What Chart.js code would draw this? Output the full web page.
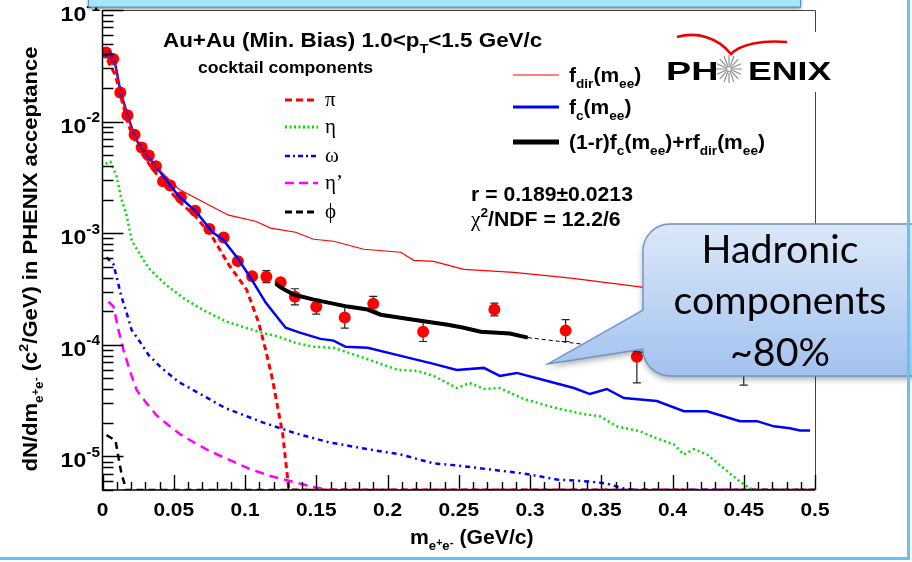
<!DOCTYPE html>
<html>
<head>
<meta charset="utf-8">
<script src="https://cdn.jsdelivr.net/npm/chart.js@4.4.1/dist/chart.umd.min.js"></script>
<style>
  html, body { margin: 0; padding: 0; background: #fff; }
  canvas { display: block; }
</style>
</head>
<body>
<canvas id="c" width="912" height="562"></canvas>
<script>
// --- data (m in GeV/c^2, dN/dm) ---
const dataX = [0.0025, 0.0075, 0.0125, 0.0175, 0.0225, 0.0275, 0.0325, 0.0375, 0.0425, 0.0475,
  0.055, 0.065, 0.075, 0.085, 0.095, 0.105, 0.115, 0.125, 0.135, 0.15, 0.17, 0.19, 0.225, 0.275, 0.325, 0.375, 0.45];
const dataY = [0.0416, 0.0364, 0.01824, 0.0114, 0.00764, 0.00587, 0.00497, 0.00399, 0.00292, 0.00267,
  0.0021, 0.00159, 0.00109, 0.000914, 0.000562, 0.000412, 0.000408, 0.000364, 0.000269, 0.000219, 0.000176,
  0.000233, 0.000131, 0.000207, 0.000134, 0.000078, 0.000086];
const dataLo = [0.0392, 0.0343, 0.0172, 0.01075, 0.0072, 0.00554, 0.00469, 0.00376, 0.00275, 0.00252,
  0.00198, 0.0015, 0.00103, 0.000862, 0.00053, 0.000389, 0.00036, 0.000328, 0.000228, 0.000188, 0.000141,
  0.0002, 0.000107, 0.000182, 0.000107, 0.0000455, 0.0000435];
const dataHi = [0.0441, 0.0386, 0.0193, 0.01208, 0.0081, 0.00622, 0.00527, 0.00423, 0.0031, 0.00283,
  0.00223, 0.00169, 0.00116, 0.000969, 0.000596, 0.000437, 0.000462, 0.000404, 0.000318, 0.000256, 0.00022,
  0.000272, 0.00016, 0.000236, 0.000168, 0.000134, 0.00017];

const fDirX = [0.0035, 0.0049, 0.0091, 0.0126, 0.0176, 0.0232, 0.0302, 0.0393, 0.0534, 0.0653, 0.0885, 0.1074,
  0.118, 0.1355, 0.1482, 0.1622, 0.1833, 0.2093, 0.2184, 0.2324, 0.2535, 0.2886, 0.3237, 0.3357, 0.38, 0.42, 0.462, 0.497];
const fDirY = [0.0402, 0.0419, 0.032, 0.0186, 0.0113, 0.00703, 0.00515, 0.00375, 0.00249, 0.00207, 0.00145, 0.00128,
  0.00111, 0.00102, 0.000883, 0.000847, 0.000718, 0.000675, 0.000571, 0.00056, 0.000474, 0.000446, 0.000402, 0.000385,
  0.000327, 0.000294, 0.00027, 0.000254];

const fCX = [0.002, 0.0049, 0.0091, 0.0126, 0.0176, 0.0232, 0.0302, 0.0372, 0.0442, 0.0534, 0.0653, 0.0772, 0.0843,
  0.0899, 0.0955, 0.1046, 0.1145, 0.1285, 0.139, 0.153, 0.1622, 0.1706, 0.1861, 0.2093, 0.2324, 0.2486, 0.2676, 0.2788,
  0.2907, 0.3069, 0.3308, 0.342, 0.3539, 0.3659, 0.389, 0.408, 0.4242, 0.4473, 0.4593, 0.4712, 0.4824, 0.4895, 0.4965];
const fCY = [0.0385, 0.0419, 0.032, 0.0186, 0.0113, 0.00703, 0.00515, 0.00402, 0.00306, 0.00215, 0.00158, 0.00102,
  0.000883, 0.000718, 0.000583, 0.000385, 0.000239, 0.000142, 0.000128, 0.000113, 0.000109, 0.000096, 0.000094,
  0.0000796, 0.0000675, 0.0000596, 0.0000621, 0.0000526, 0.000056, 0.0000494, 0.000041, 0.0000362, 0.0000402,
  0.0000333, 0.0000313, 0.0000254, 0.0000254, 0.0000207, 0.0000207, 0.0000186, 0.0000179, 0.0000171, 0.0000171];

const fitX = [0.1215, 0.125, 0.1341, 0.1482, 0.172, 0.1861, 0.1952, 0.2184, 0.2423, 0.2535, 0.2654, 0.2858, 0.2985];
const fitY = [0.000355, 0.000327, 0.000282, 0.000254, 0.00022, 0.000207, 0.000186, 0.000168, 0.000151, 0.000142,
  0.000131, 0.000126, 0.000116];
const fitExtX = [0.2985, 0.335, 0.42, 0.5];
const fitExtY = [0.000116, 0.000102, 0.000073, 0.000055];

const piX = [0.0035, 0.0091, 0.0126, 0.0183, 0.0253, 0.0351, 0.0421, 0.0534, 0.0653, 0.0772, 0.0885, 0.1011, 0.1096,
  0.1145, 0.1194, 0.1229, 0.1264, 0.1285, 0.1306, 0.1315, 0.5];
const piY = [0.0355, 0.026, 0.01715, 0.0092, 0.00571, 0.00378, 0.00288, 0.00194, 0.00142, 0.00092, 0.000526, 0.000313,
  0.000158, 0.00009, 0.0000484, 0.0000276, 0.0000161, 0.0000092, 0.00000526, 0.000005, 0.000005];

const etaX = [0.0021, 0.0056, 0.0098, 0.0133, 0.0169, 0.0206, 0.0267, 0.0323, 0.044, 0.0581, 0.0721, 0.0873, 0.1004,
  0.1124, 0.1236, 0.1355, 0.1482, 0.1622, 0.1833, 0.2072, 0.2212, 0.2324, 0.2486, 0.2577, 0.2676, 0.2788, 0.2956,
  0.3188, 0.3378, 0.349, 0.361, 0.3771, 0.389, 0.401, 0.408, 0.415, 0.4242, 0.4361, 0.4473, 0.4544, 0.4593, 0.5];
const etaY = [0.00419, 0.00436, 0.00327, 0.00202, 0.00145, 0.000853, 0.000637, 0.000488, 0.000348, 0.000255, 0.0002,
  0.000161, 0.000142, 0.000128, 0.000118, 0.000104, 0.000096, 0.000094, 0.0000764, 0.0000596, 0.0000583, 0.0000526,
  0.000041, 0.0000455, 0.0000402, 0.000041, 0.0000327, 0.000027, 0.0000239, 0.0000229, 0.0000186, 0.0000168,
  0.0000145, 0.0000128, 0.0000104, 0.0000116, 0.0000104, 0.0000078, 0.00000596, 0.00000515, 0.000005, 0.000005];

const omegaX = [0.0028, 0.0077, 0.0098, 0.0133, 0.0169, 0.0204, 0.0253, 0.0323, 0.0414, 0.0534, 0.0674, 0.0864, 0.1124,
  0.1355, 0.1587, 0.1861, 0.2093, 0.2324, 0.2486, 0.2718, 0.2956, 0.3188, 0.342, 0.3539, 0.3659, 0.373, 0.5];
const omegaY = [0.000608, 0.000526, 0.00041, 0.00027, 0.000194, 0.000136, 0.000111, 0.0000813, 0.0000621, 0.0000465,
  0.000037, 0.000027, 0.0000202, 0.0000161, 0.0000134, 0.0000116, 0.0000104, 0.00000865, 0.0000083, 0.00000764,
  0.00000703, 0.00000621, 0.00000596, 0.00000571, 0.00000515, 0.000005, 0.000005];

const etapX = [0.0042, 0.0077, 0.0112, 0.0147, 0.0197, 0.0239, 0.0309, 0.0379, 0.0463, 0.0555, 0.0653, 0.0744, 0.085,
  0.1025, 0.1166, 0.1355, 0.1496, 0.1587, 0.5];
const etapY = [0.000244, 0.00022, 0.000136, 0.00009, 0.000056, 0.0000394, 0.00003, 0.0000234, 0.000019, 0.0000155,
  0.0000131, 0.0000113, 0.0000098, 0.0000078, 0.00000675, 0.00000583, 0.00000526, 0.000005, 0.000005];

const phiX = [0.0028, 0.0091, 0.0112, 0.0133, 0.0154, 0.0162, 0.5];
const phiY = [0.0000155, 0.0000139, 0.0000098, 0.00000703, 0.00000571, 0.000005, 0.000005];

const xTickLabels = ['0', '0.05', '0.1', '0.15', '0.2', '0.25', '0.3', '0.35', '0.4', '0.45', '0.5'];
const yTickExponents = [-1, -2, -3, -4, -5];
const xMin = 0, xMax = 0.5, yMin = 5e-6, yMax = 0.1;

const SANS = '"Liberation Sans", Arial, sans-serif';
const SERIF = '"Liberation Serif", "DejaVu Serif", serif';
const SX = 1.1; // the figure is a bit stretched sideways

const pts = (xs, ys) => xs.map((x, i) => ({ x: x, y: ys[i] }));

function line(label, xs, ys, color, width, dash) {
    return {
        label: label, data: pts(xs, ys), showLine: true, pointRadius: 0,
        borderColor: color, borderWidth: width, borderDash: dash || [], fill: false, tension: 0
    };
}

// rich text: segments {t, s: size scale, dy: baseline shift in em, f: family, w: weight}
function rich(ctx, x, y, segs, size, align, sx) {
    sx = sx || SX;
    const fontOf = s => `${s.w || 'bold'} ${size * (s.s || 1)}px ${s.f || SANS}`;
    let w = 0;
    segs.forEach(s => { ctx.font = fontOf(s); w += ctx.measureText(s.t).width; });
    const left = align === 'center' ? x - w * sx / 2 : align === 'right' ? x - w * sx : x;
    ctx.save();
    ctx.translate(left, y);
    ctx.scale(sx, 1);
    ctx.textAlign = 'left';
    ctx.textBaseline = 'alphabetic';
    let p = 0;
    segs.forEach(s => {
        ctx.font = fontOf(s);
        ctx.fillText(s.t, p, (s.dy || 0) * size);
        p += ctx.measureText(s.t).width;
    });
    ctx.restore();
}
const T = t => ({ t: t });
const SUB = t => ({ t: t, s: 0.65, dy: 0.3 });
const SUP = t => ({ t: t, s: 0.65, dy: -0.45 });
const EE = [{ t: 'e', s: 0.62, dy: 0.32 }, { t: '+', s: 0.5, dy: 0.08 }, { t: 'e', s: 0.62, dy: 0.32 }, { t: '-', s: 0.55, dy: 0.08 }];

const errorBars = {
    id: 'errorBars',
    beforeDatasetDraw(chart, args) {
        if (args.index !== 9) return;
        const { ctx, scales: { x, y } } = chart;
        ctx.save();
        ctx.strokeStyle = '#222';
        ctx.lineWidth = 1.2;
        dataX.forEach((v, i) => {
            const px = x.getPixelForValue(v);
            const lo = y.getPixelForValue(dataLo[i]);
            const hi = y.getPixelForValue(dataHi[i]);
            ctx.beginPath();
            ctx.moveTo(px, lo); ctx.lineTo(px, hi);
            if (lo - hi > 12) {
                ctx.moveTo(px - 4, lo); ctx.lineTo(px + 4, lo);
                ctx.moveTo(px - 4, hi); ctx.lineTo(px + 4, hi);
            }
            ctx.stroke();
        });
        ctx.restore();
    }
};

const decor = {
    id: 'decor',
    beforeDraw(chart) {
        const ctx = chart.ctx;
        ctx.save();
        ctx.fillStyle = '#fff';
        ctx.fillRect(0, 0, chart.width, chart.height);
        ctx.restore();
    },
    afterDraw(chart) {
        const { ctx, chartArea: ca, scales: { x, y } } = chart;
        ctx.save();
        ctx.setLineDash([]);
        ctx.fillStyle = '#000';

        // frame
        ctx.strokeStyle = '#444';
        ctx.lineWidth = 1;
        ctx.beginPath();
        ctx.moveTo(ca.left, ca.top + 0.5); ctx.lineTo(ca.right + 0.5, ca.top + 0.5); ctx.lineTo(ca.right + 0.5, ca.bottom);
        ctx.stroke();
        ctx.strokeStyle = '#000';
        ctx.lineWidth = 1.5;
        ctx.beginPath();
        ctx.moveTo(ca.left, ca.top); ctx.lineTo(ca.left, ca.bottom); ctx.lineTo(ca.right, ca.bottom);
        ctx.stroke();

        // ticks (inside)
        ctx.strokeStyle = '#000';
        ctx.lineWidth = 1.4;
        ctx.beginPath();
        for (let e = -6; e <= -1; e++) {
            for (let k = 1; k <= 9; k++) {
                const v = k * Math.pow(10, e);
                if (v < yMin * 0.999 || v > yMax * 1.001) continue;
                const py = Math.round(y.getPixelForValue(v)) + 0.5;
                ctx.moveTo(ca.left, py); ctx.lineTo(ca.left + (k === 1 ? 21 : 11), py);
            }
        }
        for (let i = 0; i <= 50; i++) {
            const px = Math.round(x.getPixelForValue(i * 0.01)) + 0.5;
            ctx.moveTo(px, ca.bottom); ctx.lineTo(px, ca.bottom - (i % 5 === 0 ? 15 : 8));
        }
        ctx.stroke();

        // tick labels
        xTickLabels.forEach(l => rich(ctx, x.getPixelForValue(parseFloat(l)), 516, [T(l)], 19, 'center'));
        yTickExponents.forEach(e => {
            const py = y.getPixelForValue(Math.pow(10, e));
            rich(ctx, 100, py + 11, [T('10'), { t: '-' + (-e), s: 0.67, dy: -0.5 }], 21, 'right');
        });

        // axis titles
        rich(ctx, 410, 544, [T('m')].concat(EE, [T(' (GeV/c)')]), 20, 'left', 1.06);
        ctx.save();
        ctx.translate(37, 259);
        ctx.rotate(-Math.PI / 2);
        rich(ctx, 0, 0, [T('dN/dm')].concat(EE, [T(' (c'), SUP('2'), T('/GeV) in PHENIX acceptance')]), 20, 'center');
        ctx.restore();

        // header texts
        rich(ctx, 163, 47, [T('Au+Au (Min. Bias) 1.0<p'), SUB('T'), T('<1.5 GeV/c')], 20, 'left', 1.12);
        rich(ctx, 198, 73, [T('cocktail components')], 16, 'left');

        // cocktail legend
        const leg = [
            ['\u03c0', '#ff0000', 3, [7, 4], 100],
            ['\u03b7', '#00dd00', 3, [2, 2.5], 127],
            ['\u03c9', '#0000ff', 2.5, [5, 3, 2, 3], 156],
            ['\u03b7\u2019', '#ff00ff', 2.5, [9, 5], 183],
            ['\u03d5', '#000000', 3, [7, 4], 212]
        ];
        leg.forEach(r => {
            ctx.strokeStyle = r[1]; ctx.lineWidth = r[2]; ctx.setLineDash(r[3]);
            ctx.beginPath(); ctx.moveTo(285, r[4]); ctx.lineTo(318, r[4]); ctx.stroke();
            ctx.setLineDash([]);
            rich(ctx, 325, r[4] + 6, [{ t: r[0], f: SERIF, w: 'normal' }], 21, 'left', 1);
        });

        // fit legend
        const leg2 = [
            ['#ff0000', 1.2, 75, [T('f'), SUB('dir'), T('(m'), SUB('ee'), T(')')]],
            ['#0000ff', 3, 107, [T('f'), SUB('c'), T('(m'), SUB('ee'), T(')')]],
            ['#000000', 5, 142, [T('(1-r)f'), SUB('c'), T('(m'), SUB('ee'), T(')+rf'), SUB('dir'), T('(m'), SUB('ee'), T(')')]]
        ];
        leg2.forEach(r => {
            ctx.strokeStyle = r[0]; ctx.lineWidth = r[1];
            ctx.beginPath(); ctx.moveTo(513, r[2]); ctx.lineTo(559, r[2]); ctx.stroke();
            rich(ctx, 569, r[2] + 7, r[3], 20, 'left', 1.05);
        });

        rich(ctx, 471, 201, [T('r = 0.189\u00b10.0213')], 20, 'left', 1.06);
        rich(ctx, 471, 226, [{ t: '\u03c7', f: SERIF, w: 'normal' }, SUP('2'), T('/NDF = 12.2/6')], 20, 'left', 1.06);

        // PHENIX logo
        ctx.fillStyle = '#fff';
        ctx.fillRect(655, 32, 190, 60);
        ctx.fillStyle = '#000';
        rich(ctx, 666, 80, [T('PH')], 26, 'left', 1.45);
        rich(ctx, 748, 80, [T('ENIX')], 26, 'left', 1.37);
        ctx.strokeStyle = '#8a8a8a';
        ctx.lineWidth = 1.1;
        ctx.beginPath();
        for (let i = 0; i < 16; i++) {
            const a = i * Math.PI / 8;
            ctx.moveTo(729 + 3.5 * Math.cos(a), 69 + 3.5 * Math.sin(a));
            ctx.lineTo(729 + 13 * Math.cos(a), 69 + 14 * Math.sin(a));
        }
        ctx.stroke();
        ctx.beginPath(); ctx.arc(729, 69, 2.5, 0, Math.PI * 2); ctx.stroke();
        ctx.strokeStyle = '#ee0000';
        ctx.lineWidth = 2.6;
        ctx.beginPath();
        ctx.moveTo(677, 37);
        ctx.bezierCurveTo(697, 31, 718, 38, 731, 54);
        ctx.bezierCurveTo(741, 44, 762, 40, 787, 42);
        ctx.stroke();

        // callout
        const L = 643, TT = 224, R = 940, B = 376, rr = 27;
        ctx.save();
        ctx.beginPath();
        ctx.moveTo(L + rr, TT); ctx.lineTo(R, TT); ctx.lineTo(R, B); ctx.lineTo(L + rr, B);
        ctx.arcTo(L, B, L, B - rr, rr);
        ctx.lineTo(548, 364);
        ctx.lineTo(L, 310);
        ctx.lineTo(L, TT + rr);
        ctx.arcTo(L, TT, L + rr, TT, rr);
        ctx.closePath();
        const g = ctx.createLinearGradient(0, TT, 0, B);
        g.addColorStop(0, '#dce8f9');
        g.addColorStop(1, '#a2c2ef');
        ctx.shadowColor = 'rgba(0,0,0,0.35)';
        ctx.shadowBlur = 6;
        ctx.shadowOffsetY = 3;
        ctx.fillStyle = g;
        ctx.fill();
        ctx.shadowColor = 'transparent';
        ctx.strokeStyle = '#6e93c6';
        ctx.lineWidth = 1.4;
        ctx.stroke();
        ctx.restore();
        ctx.fillStyle = '#000';
        ctx.font = '100px Lato, "Open Sans", sans-serif';
        const fs = 100 * 213 / ctx.measureText('components').width;
        ctx.font = fs.toFixed(1) + 'px Lato, "Open Sans", sans-serif';
        ctx.textAlign = 'center';
        ctx.textBaseline = 'alphabetic';
        ctx.fillText('Hadronic', 780, 263);
        ctx.fillText('components', 780, 314);
        ctx.fillText('~80%', 780, 366);

        // slide decorations
        ctx.save();
        ctx.shadowColor = 'rgba(0,0,0,0.45)';
        ctx.shadowBlur = 3;
        ctx.shadowOffsetY = 2;
        ctx.fillStyle = '#a4e6fa';
        ctx.fillRect(88, -4, 713, 11);
        ctx.restore();
        ctx.strokeStyle = '#4d95c8';
        ctx.lineWidth = 1;
        ctx.strokeRect(88.5, -4, 712, 11);
        ctx.strokeStyle = '#5fc6f0';
        ctx.lineWidth = 3;
        ctx.beginPath();
        ctx.moveTo(908.5, 0); ctx.lineTo(908.5, 560); ctx.moveTo(0, 558.5); ctx.lineTo(910, 558.5);
        ctx.stroke();
        ctx.restore();
    }
};

new Chart(document.getElementById('c').getContext('2d'), {
    type: 'scatter',
    data: {
        datasets: [
            line('f_dir', fDirX, fDirY, '#ff0000', 1.2),
            line('eta', etaX, etaY, '#00dd00', 2.5, [2, 3]),
            line('omega', omegaX, omegaY, '#0000ff', 2.5, [5, 4, 2, 4]),
            line('etaprime', etapX, etapY, '#ff00ff', 2.5, [9, 6]),
            line('phi', phiX, phiY, '#000000', 2.5, [7, 5]),
            line('pi', piX, piY, '#ff0000', 3, [6, 4]),
            line('f_c', fCX, fCY, '#0000ff', 2.5),
            line('fit', fitX, fitY, '#000000', 4),
            line('fit ext', fitExtX, fitExtY, '#000000', 1, [4, 3]),
            {
                label: 'data', data: pts(dataX, dataY), showLine: false,
                pointRadius: 6, pointBackgroundColor: '#ff0000', pointBorderColor: '#ff0000', pointBorderWidth: 0
            }
        ]
    },
    options: {
        responsive: false,
        animation: false,
        layout: { padding: { left: 102.5, top: 10, right: 97, bottom: 72 } },
        scales: {
            x: { type: 'linear', min: xMin, max: xMax, display: false },
            y: { type: 'logarithmic', min: yMin, max: yMax, display: false }
        },
        plugins: { legend: { display: false }, tooltip: { enabled: false } }
    },
    plugins: [errorBars, decor]
});
</script>
</body>
</html>
